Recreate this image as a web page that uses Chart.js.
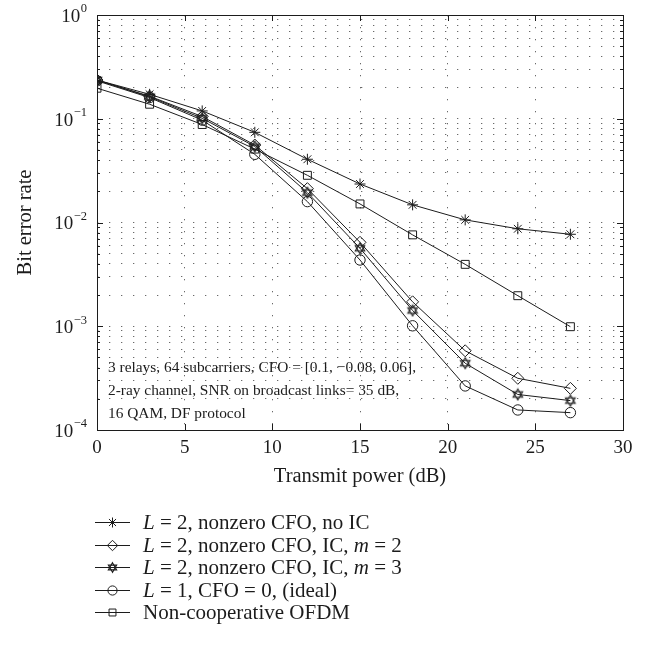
<!DOCTYPE html>
<html>
<head>
<meta charset="utf-8">
<script src="https://cdn.jsdelivr.net/npm/chart.js@4.4.1/dist/chart.umd.min.js"></script>
<style>
  html, body { margin: 0; padding: 0; background: #fff; }
  canvas { display: block; }
</style>
</head>
<body>
<canvas id="berChart" width="650" height="646"></canvas>
<script>
// transmit power (dB)
const powerDb = [0, 3, 6, 9, 12, 15, 18, 21, 24, 27];

// bit error rate per curve
const berNoIc   = [0.236, 0.172, 0.119, 0.074, 0.0407, 0.0235, 0.0148, 0.0106, 0.0087, 0.0077];
const berIcM2   = [0.236, 0.165, 0.105, 0.0558, 0.0212, 0.00644, 0.00172, 0.00058, 0.000315, 0.000252];
const berIcM3   = [0.236, 0.163, 0.101, 0.054, 0.0194, 0.00564, 0.00142, 0.00044, 0.00022, 0.000192];
const berIdeal  = [0.232, 0.160, 0.097, 0.0454, 0.0159, 0.00435, 0.00101, 0.000266, 0.000156, 0.000147];
const berNonCoop = [0.197, 0.138, 0.088, 0.051, 0.0285, 0.0151, 0.0076, 0.00395, 0.00197, 0.00099];

const legendLabels = [
    'L = 2, nonzero CFO, no IC',
    'L = 2, nonzero CFO, IC, m = 2',
    'L = 2, nonzero CFO, IC, m = 3',
    'L = 1, CFO = 0, (ideal)',
    'Non-cooperative OFDM'
];

const noteLines = [
    '3 relays, 64 subcarriers, CFO = [0.1, \u22120.08, 0.06],',
    '2-ray channel, SNR on broadcast links= 35 dB,',
    '16 QAM, DF protocol'
];

const yExponents = [0, -1, -2, -3, -4];
const xTicks = [0, 5, 10, 15, 20, 25, 30];

const INK = '#1c1c1c';
const SERIF = '"Liberation Serif", "Times New Roman", serif';

// six-pointed star marker (not built into Chart.js)
function makeHexagram(r) {
    const size = Math.ceil(r * 2 + 3);
    const c = document.createElement('canvas');
    c.width = size;
    c.height = size;
    const g = c.getContext('2d');
    const cx = size / 2, cy = size / 2;
    g.strokeStyle = INK;
    g.lineWidth = 1.1;
    [-Math.PI / 2, Math.PI / 2].forEach(start => {
        g.beginPath();
        for (let k = 0; k < 3; k++) {
            const a = start + k * 2 * Math.PI / 3;
            const px = cx + r * Math.cos(a), py = cy + r * Math.sin(a);
            if (k === 0) g.moveTo(px, py); else g.lineTo(px, py);
        }
        g.closePath();
        g.stroke();
    });
    return c;
}
const hexagram = makeHexagram(5.5);
const hexagramSmall = makeHexagram(4.8);

function series(label, values, style, radius, legendStyle, legendRadius) {
    return {
        label: label,
        data: powerDb.map((x, i) => ({ x: x, y: values[i] })),
        borderColor: INK,
        borderWidth: 1,
        pointStyle: style,
        pointRadius: radius,
        pointHoverRadius: radius,
        pointBorderColor: INK,
        pointBackgroundColor: 'rgba(0,0,0,0)',
        pointBorderWidth: 1,
        fill: false,
        tension: 0,
        legendStyle: legendStyle,
        legendRadius: legendRadius
    };
}

const datasets = [
    series(legendLabels[0], berNoIc, 'star', 5.5, 'star', 5),
    series(legendLabels[1], berIcM2, 'rectRot', 6, 'rectRot', 5.2),
    series(legendLabels[2], berIcM3, hexagram, 5.5, hexagramSmall, 5),
    series(legendLabels[3], berIdeal, 'circle', 5.2, 'circle', 4.6),
    series(legendLabels[4], berNonCoop, 'rect', 5.6, 'rect', 4.9)
];

// frame, inward ticks, y labels with superscripts, note text, legend
const decorPlugin = {
    id: 'decor',
    afterDatasetsDraw(chart) {
        const { ctx, chartArea: a, scales } = chart;
        const xs = scales.x, ys = scales.y;
        ctx.save();
        ctx.strokeStyle = INK;
        ctx.lineWidth = 1;
        ctx.strokeRect(Math.round(a.left) + 0.5, Math.round(a.top) + 0.5,
            Math.round(a.right - a.left), Math.round(a.bottom - a.top));

        ctx.beginPath();
        ys.ticks.forEach(t => {
            const y = Math.round(ys.getPixelForValue(t.value)) + 0.5;
            const len = t.major ? 6 : 3;
            ctx.moveTo(a.left, y); ctx.lineTo(a.left + len, y);
            ctx.moveTo(a.right, y); ctx.lineTo(a.right - len, y);
        });
        xTicks.forEach(v => {
            const x = Math.round(xs.getPixelForValue(v)) + 0.5;
            ctx.moveTo(x, a.bottom); ctx.lineTo(x, a.bottom - 6);
            ctx.moveTo(x, a.top); ctx.lineTo(x, a.top + 6);
        });
        ctx.stroke();

        // y tick labels 10^k
        ctx.fillStyle = INK;
        ctx.textBaseline = 'middle';
        yExponents.forEach(e => {
            const y = ys.getPixelForValue(Math.pow(10, e));
            const sup = e === 0 ? '0' : '\u2212' + (-e);
            ctx.font = '12.5px ' + SERIF;
            const supW = ctx.measureText(sup).width;
            const right = 87;
            ctx.textAlign = 'right';
            ctx.fillText(sup, right, y - 6);
            ctx.font = '19px ' + SERIF;
            ctx.fillText('10', right - supW - 0.5, y + 2);
        });

        // annotation
        ctx.font = '15.4px ' + SERIF;
        ctx.textAlign = 'left';
        ctx.textBaseline = 'alphabetic';
        noteLines.forEach((line, i) => {
            ctx.fillText(line, a.left + 11, a.bottom - 58 + i * 23);
        });

        // legend
        const rowY0 = 522, rowGap = 22.6;
        chart.data.datasets.forEach((ds, i) => {
            const y = Math.round(rowY0 + i * rowGap) + 0.5;
            ctx.strokeStyle = INK;
            ctx.fillStyle = 'rgba(0,0,0,0)';
            ctx.lineWidth = 1;
            ctx.beginPath();
            ctx.moveTo(95, y);
            ctx.lineTo(130, y);
            ctx.stroke();
            Chart.helpers.drawPoint(ctx, {
                pointStyle: ds.legendStyle,
                radius: ds.legendRadius,
                rotation: 0,
                borderWidth: 1
            }, 112.5, y);

            let x = 143;
            const parts = ds.label.split(/\b([Lm])(?= =)/);
            ctx.fillStyle = INK;
            ctx.textBaseline = 'middle';
            parts.forEach(p => {
                if (!p) return;
                const italic = p === 'L' || p === 'm';
                ctx.font = (italic ? 'italic ' : '') + '21px ' + SERIF;
                ctx.fillText(p, x, y + 1);
                x += ctx.measureText(p).width;
            });
        });
        ctx.restore();
    }
};

new Chart(document.getElementById('berChart'), {
    type: 'line',
    data: { datasets: datasets },
    options: {
        responsive: false,
        devicePixelRatio: 1,
        animation: false,
        events: [],
        layout: { padding: { top: 15, right: 27, bottom: 156, left: 0 } },
        plugins: {
            legend: { display: false },
            tooltip: { enabled: false }
        },
        scales: {
            x: {
                type: 'linear',
                min: 0,
                max: 30,
                afterFit: s => { s.height = 60; },
                afterBuildTicks: s => { s.ticks = xTicks.map(v => ({ value: v })); },
                grid: { color: '#6a6a6a', lineWidth: 1, drawTicks: false },
                border: { display: false, dash: [1.3, 10.7] },
                ticks: {
                    color: INK,
                    padding: 7,
                    maxRotation: 0,
                    font: { family: SERIF, size: 19 }
                },
                title: {
                    display: true,
                    text: 'Transmit power (dB)',
                    color: INK,
                    font: { family: SERIF, size: 20.5 },
                    padding: { top: 0, bottom: 1 }
                }
            },
            y: {
                type: 'logarithmic',
                min: 1e-4,
                max: 1,
                afterFit: s => { s.width = 97; },
                afterBuildTicks: s => {
                    const t = [];
                    yExponents.slice().reverse().forEach(e => {
                        for (let m = 1; m <= 9; m++) {
                            const v = m * Math.pow(10, e);
                            if (v <= 1) t.push({ value: v, major: m === 1 });
                        }
                    });
                    s.ticks = t;
                },
                grid: { color: '#6a6a6a', lineWidth: 1, drawTicks: false },
                border: { display: false, dash: [1.3, 10.7] },
                ticks: { display: false },
                title: {
                    display: true,
                    text: 'Bit error rate',
                    color: INK,
                    font: { family: SERIF, size: 20.5 },
                    padding: { top: 13, bottom: 0 }
                }
            }
        }
    },
    plugins: [decorPlugin]
});
</script>
</body>
</html>
